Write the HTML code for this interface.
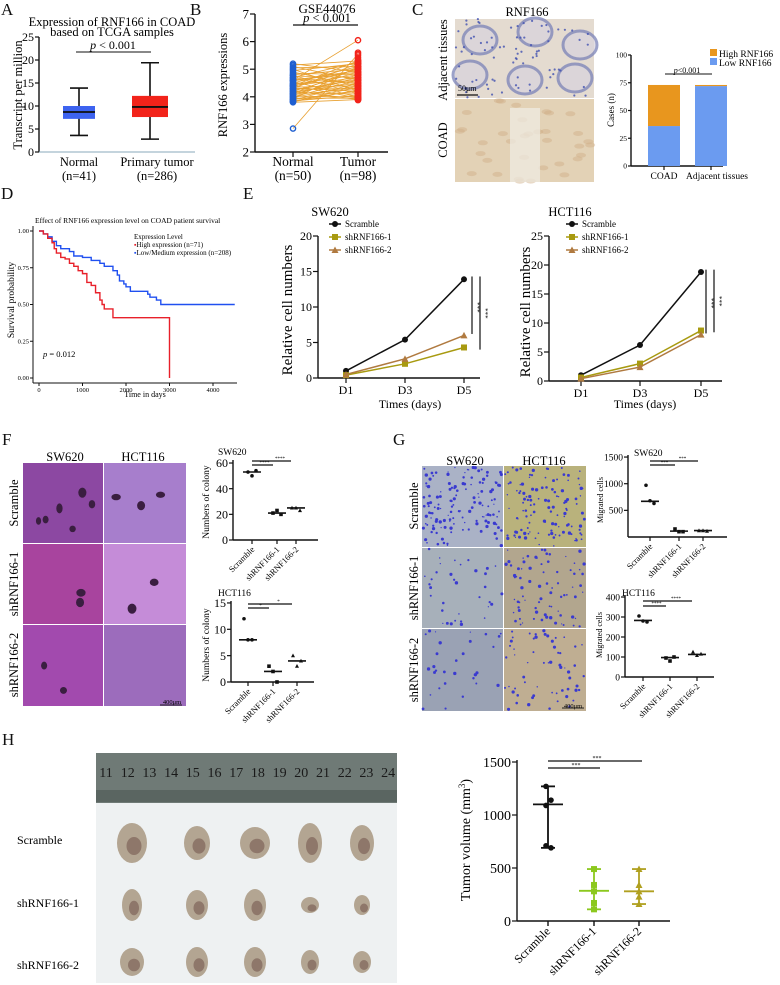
<!DOCTYPE html>
<html><head><meta charset="utf-8">
<style>
html,body{margin:0;padding:0;background:#fff;}
svg{display:block;font-family:"Liberation Serif",serif;}
</style></head>
<body>
<svg id="fig" width="780" height="985" viewBox="0 0 780 985" xmlns="http://www.w3.org/2000/svg">
<rect x="0" y="0" width="780" height="985" fill="#fff"/>
<g font-size="17" fill="#111">
<text x="1" y="15">A</text>
<text x="190" y="15">B</text>
<text x="412" y="15">C</text>
<text x="1" y="199">D</text>
<text x="243" y="199">E</text>
<text x="2" y="445">F</text>
<text x="393" y="445">G</text>
<text x="2" y="745">H</text>
</g>

<g id="pA">
<text x="112" y="26" font-size="12.5" text-anchor="middle">Expression of RNF166 in COAD</text>
<text x="112" y="36" font-size="12.5" text-anchor="middle">based on TCGA samples</text>
<text x="113" y="49" font-size="12" text-anchor="middle"><tspan font-style="italic">p</tspan> &lt; 0.001</text>
<line x1="76" y1="52" x2="151" y2="52" stroke="#111" stroke-width="1"/>
<text x="22" y="95" font-size="12.5" text-anchor="middle" transform="rotate(-90 22 95)">Transcript per million</text>
<text x="79" y="166" font-size="12.5" text-anchor="middle">Normal</text>
<text x="79" y="180" font-size="12.5" text-anchor="middle">(n=41)</text>
<text x="157" y="166" font-size="12.5" text-anchor="middle">Primary tumor</text>
<text x="157" y="180" font-size="12.5" text-anchor="middle">(n=286)</text>
</g>

<g id="pB">
<text x="327" y="13" font-size="13" text-anchor="middle">GSE44076</text>
<text x="327" y="22" font-size="12.5" text-anchor="middle"><tspan font-style="italic">p</tspan> &lt; 0.001</text>
<line x1="293" y1="25" x2="358" y2="25" stroke="#111" stroke-width="1.3"/>
<text x="227" y="85" font-size="12.5" text-anchor="middle" transform="rotate(-90 227 85)">RNF166 expressions</text>
<text x="293" y="166" font-size="13.5" text-anchor="middle">Normal</text>
<text x="293" y="180" font-size="13.5" text-anchor="middle">(n=50)</text>
<text x="358" y="166" font-size="13.5" text-anchor="middle">Tumor</text>
<text x="358" y="180" font-size="13.5" text-anchor="middle">(n=98)</text>
</g>

<g id="pC">
<text x="527" y="16" font-size="12.5" text-anchor="middle">RNF166</text>
<text x="447" y="60" font-size="12.5" text-anchor="middle" transform="rotate(-90 447 60)">Adjacent tissues</text>
<text x="447" y="140" font-size="12.5" text-anchor="middle" transform="rotate(-90 447 140)">COAD</text>
<g id="ihc">
<rect x="455" y="19" width="139" height="79" fill="#e4dbd0"/>
<rect x="455" y="99" width="139" height="83" fill="#e3d2b6"/>
</g>
<text x="458" y="91" font-size="8">50μm</text>
<text x="614" y="110" font-size="9" text-anchor="middle" transform="rotate(-90 614 110)">Cases (n)</text>
<text x="687" y="73" font-size="8" text-anchor="middle"><tspan font-style="italic">p</tspan>&lt;0.001</text>
<line x1="665" y1="74" x2="712" y2="74" stroke="#111" stroke-width="1"/>
<rect x="710" y="49" width="7" height="7" fill="#e8961e"/>
<text x="719" y="57" font-size="9.5">High RNF166</text>
<rect x="710" y="58" width="7" height="7" fill="#6b9bf0"/>
<text x="719" y="66" font-size="9.5">Low RNF166</text>
<text x="664" y="179" font-size="9.5" text-anchor="middle">COAD</text>
<text x="717" y="179" font-size="9.5" text-anchor="middle">Adjacent tissues</text>
</g>

<g id="pD">
<text x="35" y="223" font-size="7.5">Effect of RNF166 expression level on COAD patient survival</text>
<text x="134" y="239" font-size="7">Expression Level</text>
<text x="134" y="247" font-size="7"><tspan fill="#e8202a">▪</tspan>High expression (n=71)</text>
<text x="134" y="255" font-size="7"><tspan fill="#2050f0">▪</tspan>Low/Medium expression (n=208)</text>
<text x="14" y="300" font-size="9.5" text-anchor="middle" transform="rotate(-90 14 300)">Survival probability</text>
<text x="145" y="397" font-size="8" text-anchor="middle">Time in days</text>
<text x="43" y="357" font-size="8.5"><tspan font-style="italic">p</tspan> = 0.012</text>
</g>

<g id="pE">
<text x="330" y="216" font-size="12.5" text-anchor="middle">SW620</text>
<text x="570" y="216" font-size="12.5" text-anchor="middle">HCT116</text>
<text x="292" y="310" font-size="15" text-anchor="middle" transform="rotate(-90 292 310)">Relative cell numbers</text>
<text x="530" y="312" font-size="15" text-anchor="middle" transform="rotate(-90 530 312)">Relative cell numbers</text>
<text x="410" y="408" font-size="12" text-anchor="middle">Times (days)</text>
<text x="645" y="408" font-size="12" text-anchor="middle">Times (days)</text>
</g>

<g id="pF">
<text x="65" y="461" font-size="12.5" text-anchor="middle">SW620</text>
<text x="143" y="461" font-size="12.5" text-anchor="middle">HCT116</text>
<text x="18" y="503" font-size="12.5" text-anchor="middle" transform="rotate(-90 18 503)">Scramble</text>
<text x="18" y="584" font-size="12.5" text-anchor="middle" transform="rotate(-90 18 584)">shRNF166-1</text>
<text x="18" y="665" font-size="12.5" text-anchor="middle" transform="rotate(-90 18 665)">shRNF166-2</text>
<g id="fimg"></g>
<text x="172" y="704" font-size="6.5" text-anchor="middle">400μm</text>
<text x="218" y="455" font-size="9.5">SW620</text>
<text x="218" y="596" font-size="9.5">HCT116</text>
<text x="209" y="502" font-size="9.5" text-anchor="middle" transform="rotate(-90 209 502)">Numbers of colony</text>
<text x="209" y="645" font-size="9.5" text-anchor="middle" transform="rotate(-90 209 645)">Numbers of colony</text>
</g>

<g id="pG">
<text x="465" y="465" font-size="12.5" text-anchor="middle">SW620</text>
<text x="544" y="465" font-size="12.5" text-anchor="middle">HCT116</text>
<text x="418" y="506" font-size="12.5" text-anchor="middle" transform="rotate(-90 418 506)">Scramble</text>
<text x="418" y="588" font-size="12.5" text-anchor="middle" transform="rotate(-90 418 588)">shRNF166-1</text>
<text x="418" y="670" font-size="12.5" text-anchor="middle" transform="rotate(-90 418 670)">shRNF166-2</text>
<g id="gimg"></g>
<text x="573" y="708" font-size="6.5" text-anchor="middle">400μm</text>
<text x="634" y="456" font-size="9.5">SW620</text>
<text x="622" y="596" font-size="9.5">HCT116</text>
<text x="603" y="500" font-size="8" text-anchor="middle" transform="rotate(-90 603 500)">Migrated cells</text>
<text x="602" y="635" font-size="8" text-anchor="middle" transform="rotate(-90 602 635)">Migrated cells</text>
</g>

<g id="pH">
<rect x="96" y="753" width="301" height="50" fill="#6f7a76"/>
<rect x="96" y="790" width="301" height="12" fill="#5a6561"/>
<g id="rulerNums" font-size="14" fill="#1a1a1a"></g>
<rect x="96" y="803" width="301" height="180" fill="#eef1f2"/>
<text x="17" y="844" font-size="12">Scramble</text>
<text x="17" y="907" font-size="12">shRNF166-1</text>
<text x="17" y="969" font-size="12">shRNF166-2</text>
<g id="tumors"></g>
<text x="470" y="840" font-size="14" text-anchor="middle" transform="rotate(-90 470 840)">Tumor volume (mm<tspan font-size="9" dy="-5">3</tspan><tspan dy="5">)</tspan></text>
</g>

<g id="charts"></g>

<script>
// ---------- DATA ----------
const aCategories = ["Normal", "Primary tumor"];
const aTicks = [0, 5, 10, 15, 20, 25];
const aMin = [3.6, 2.8];
const aQ1 = [7.2, 7.6];
const aMedian = [8.7, 9.8];
const aQ3 = [10.0, 12.2];
const aMax = [13.9, 19.4];

const bTicks = [2, 3, 4, 5, 6, 7];
const bNormal = [5.2,5.15,5.1,5.05,5.0,4.95,4.9,4.85,4.8,4.78,4.75,4.7,4.68,4.65,4.6,4.58,4.55,4.5,4.48,4.45,4.42,4.4,4.38,4.35,4.32,4.3,4.28,4.25,4.22,4.2,4.18,4.15,4.12,4.1,4.08,4.05,4.02,4.0,3.98,3.95,3.92,3.9,3.88,3.85,3.83,3.82,3.8,4.6,4.4,2.85];
const bTumor = [4.9,5.3,4.6,5.1,4.2,5.2,4.4,4.8,5.0,4.1,4.7,5.25,4.5,4.3,6.05,4.9,4.0,5.1,4.6,4.8,3.95,4.7,5.0,4.4,4.2,5.2,4.3,4.6,3.9,4.9,4.5,4.1,5.05,4.7,4.3,4.8,4.0,4.6,4.4,3.95,5.1,4.2,4.5,4.05,4.35,4.25,3.9,4.95,5.3,5.55];
const bTumorExtra = [5.6,5.5,5.35,5.2,5.15,5.0,4.85,4.75,4.65,4.55,4.45,4.35,4.25,4.15,4.05,3.98,3.92,3.88,5.28,4.88,4.62,4.32,4.12,5.42,5.08,4.78,4.52,4.22,4.02,3.95,5.22,4.92,4.68,4.42,4.18,4.08,5.32,5.02,4.72,4.48,4.28,3.9,5.12,4.82,4.58,4.38,4.15,3.93];

const cCategories = ["COAD", "Adjacent tissues"];
const cTicks = [0, 25, 50, 75, 100];
const cLow = [36, 72];
const cHigh = [37, 1];

const dTicksX = [0, 1000, 2000, 3000, 4000];
const dTicksY = [0, 0.25, 0.5, 0.75, 1.0];
const dBlueTime = [0,100,200,300,400,500,700,800,1000,1200,1400,1500,1700,1800,1850,1950,2000,2100,2500,2550,2700,2800,4500];
const dBlueSurv = [1,0.98,0.96,0.93,0.9,0.88,0.86,0.83,0.82,0.8,0.78,0.76,0.73,0.7,0.66,0.64,0.62,0.59,0.57,0.55,0.53,0.5,0.5];
const dRedTime = [0,100,200,300,350,400,500,600,700,800,900,1000,1100,1200,1300,1400,1450,1500,1700,3000,3000];
const dRedSurv = [1,0.98,0.95,0.92,0.88,0.85,0.82,0.81,0.78,0.76,0.73,0.71,0.65,0.63,0.58,0.53,0.5,0.47,0.41,0.41,0];

const eDays = ["D1", "D3", "D5"];
const eSwTicks = [0, 5, 10, 15, 20];
const eSwScramble = [1.0, 5.4, 13.9];
const eSwSh1 = [0.4, 2.0, 4.3];
const eSwSh2 = [0.5, 2.7, 6.0];
const eHcTicks = [0, 5, 10, 15, 20, 25];
const eHcScramble = [1.0, 6.2, 18.8];
const eHcSh1 = [0.6, 3.0, 8.7];
const eHcSh2 = [0.4, 2.4, 8.0];
const eSeriesNames = ["Scramble", "shRNF166-1", "shRNF166-2"];

const groups = ["Scramble", "shRNF166-1", "shRNF166-2"];
const fSwTicks = [0, 20, 40, 60];
const fSwPoints = [[53, 50, 54], [21, 23, 20], [25, 25, 23]];
const fSwMedian = [53, 21, 25];
const fHcTicks = [0, 5, 10, 15];
const fHcPoints = [[12, 8, 8], [3, 2, 0], [5, 3, 4]];
const fHcMedian = [8, 2, 4];

const gSwTicks = [500, 1000, 1500];
const gSwPoints = [[970, 680, 630], [150, 100, 100], [120, 120, 110]];
const gSwMedian = [670, 110, 120];
const gHcTicks = [0, 100, 200, 300, 400];
const gHcPoints = [[305, 280, 275], [95, 80, 100], [125, 108, 115]];
const gHcMedian = [283, 97, 113];

const hTicks = [0, 500, 1000, 1500];
const hPoints = [[1270, 1140, 1090, 690, 710], [490, 340, 280, 170, 110], [490, 340, 280, 230, 160]];
const hMedian = [1100, 285, 280];
const hMin = [690, 110, 160];
const hMax = [1270, 490, 490];

// ---------- HELPERS ----------
const NS = "http://www.w3.org/2000/svg";
const root = document.getElementById("charts");
function mk(tag, attrs, parent) {
  const el = document.createElementNS(NS, tag);
  for (const k in attrs) el.setAttribute(k, attrs[k]);
  (parent || root).appendChild(el);
  return el;
}
function nm(el, name, inter) {
  
  
  return el;
}
function txt(x, y, s, size, anchor, parent, extra) {
  const t = mk("text", Object.assign({x: x, y: y, "font-size": size, "text-anchor": anchor || "middle"}, extra || {}), parent);
  t.textContent = s;
  return t;
}
function lin(x1, y1, x2, y2, w, col, parent) {
  return mk("line", {x1: x1, y1: y1, x2: x2, y2: y2, stroke: col || "#111", "stroke-width": w || 1}, parent);
}
function yAxis(x, y0, y1, ticks, scale, size, parent, name, tickLen) {
  const g = nm(mk("g", {}, parent), name, false);
  nm(lin(x, y0, x, y1, 1.4, "#111", g), name + "-line", false);
  ticks.forEach(v => {
    const y = scale(v);
    nm(lin(x - (tickLen || 4), y, x, y, 1.2, "#111", g), name + "-tick", false);
    nm(txt(x - (tickLen || 4) - 1, y + size * 0.35, String(v), size, "end", g), name + "-tick-label", false);
  });
  return g;
}

// ---------- PANEL A ----------
(function () {
  const g = nm(mk("g"), "panel-a-plot", false);
  const y = v => 152 - v * 4.6;
  const xs = [79, 150];
  const cols = ["#3d63f0", "#f2231a"];
  yAxis(39, 37, 152, aTicks, y, 12, g, "panel-a-y-axis", 4);
  nm(lin(39, 152, 195, 152, 1, "#8ab", g), "panel-a-x-axis", false);
  aCategories.forEach((c, i) => {
    const x = xs[i];
    nm(lin(x, y(aMax[i]), x, y(aMin[i]), 1.6, "#111", g), "whisker-" + i, false);
    nm(lin(x - 9, y(aMax[i]), x + 9, y(aMax[i]), 1.6, "#111", g), "whisker-cap-top-" + i, false);
    nm(lin(x - 9, y(aMin[i]), x + 9, y(aMin[i]), 1.6, "#111", g), "whisker-cap-bottom-" + i, false);
    const w = i === 0 ? 32 : 36;
    nm(mk("rect", {x: x - w / 2, y: y(aQ3[i]), width: w, height: y(aQ1[i]) - y(aQ3[i]), fill: cols[i]}, g), "box-" + i, false);
    nm(lin(x - w / 2, y(aMedian[i]), x + w / 2, y(aMedian[i]), 1.8, "#111", g), "median-" + i, false);
  });
})();

// ---------- PANEL B ----------
(function () {
  const g = nm(mk("g"), "panel-b-plot", false);
  const y = v => 152 - (v - 2) * 27.6;
  const xN = 293, xT = 358;
  yAxis(255, 14, 152, bTicks, y, 13, g, "panel-b-y-axis", 5);
  nm(lin(255, 152, 388, 152, 1.4, "#111", g), "panel-b-x-axis", false);
  nm(lin(xN, 152, xN, 157, 1.2, "#111", g), "panel-b-x-tick", false);
  nm(lin(xT, 152, xT, 157, 1.2, "#111", g), "panel-b-x-tick", false);
  bNormal.forEach((v, i) => {
    nm(lin(xN, y(v), xT, y(bTumor[i]), 0.8, "#e8a030", g), "pair-line", false);
  });
  bNormal.forEach(v => {
    nm(mk("circle", {cx: xN, cy: y(v), r: 2.6, fill: "none", stroke: "#1f5fd0", "stroke-width": 1.4}, g), "normal-point", false);
  });
  bTumor.concat(bTumorExtra).forEach(v => {
    nm(mk("circle", {cx: xT, cy: y(v), r: 2.6, fill: "none", stroke: "#f2231a", "stroke-width": 1.4}, g), "tumor-point", false);
  });
})();

// ---------- PANEL C ----------
(function () {
  const ihc = document.getElementById("ihc");
  let s = 7;
  const rnd = () => { s = (s * 9301 + 49297) % 233280; return s / 233280; };
  [[480, 40], [535, 32], [580, 45], [470, 75], [525, 80], [575, 78]].forEach(p => {
    nm(mk("ellipse", {cx: p[0], cy: p[1], rx: 17, ry: 14, fill: "#d9d3dc", stroke: "#7a82b8", "stroke-width": 3, opacity: 0.75}, ihc), "crypt", false);
  });
  for (let i = 0; i < 80; i++) {
    nm(mk("circle", {cx: 455 + rnd() * 139, cy: 19 + rnd() * 79, r: 1.1, fill: "#4050b0", opacity: 0.8}, ihc), "nucleus", false);
  }
  for (let i = 0; i < 35; i++) {
    nm(mk("ellipse", {cx: 455 + rnd() * 139, cy: 99 + rnd() * 83, rx: 5, ry: 2.5, fill: "#cfae84", opacity: 0.45}, ihc), "stain-patch", false);
  }
  nm(mk("rect", {x: 510, y: 108, width: 30, height: 74, fill: "#f0ece6", opacity: 0.7}, ihc), "lumen", false);
  nm(lin(457, 95, 478, 95, 1.2, "#111", ihc), "ihc-scale-bar", false);

  const g = nm(mk("g"), "panel-c-bar-chart", false);
  const y = v => 166 - v * 1.11;
  const xs = [664, 711];
  yAxis(631, 55, 166, cTicks, y, 7.5, g, "panel-c-y-axis", 3);
  nm(lin(631, 166, 723, 166, 1.6, "#111", g), "panel-c-x-axis", false);
  cCategories.forEach((c, i) => {
    nm(mk("rect", {x: xs[i] - 16, y: y(cLow[i]), width: 32, height: y(0) - y(cLow[i]), fill: "#6b9bf0"}, g), "bar-low-" + i, false);
    nm(mk("rect", {x: xs[i] - 16, y: y(cLow[i] + cHigh[i]), width: 32, height: y(cLow[i]) - y(cLow[i] + cHigh[i]), fill: "#e8961e"}, g), "bar-high-" + i, false);
    nm(lin(xs[i], 166, xs[i], 170, 1.2, "#111", g), "panel-c-x-tick", false);
  });
})();

// ---------- PANEL D ----------
(function () {
  const g = nm(mk("g"), "panel-d-plot", false);
  const x = t => 39 + t * 0.0435;
  const y = s => 378 - s * 147;
  nm(lin(33, 226, 33, 383, 1, "#111", g), "panel-d-y-axis", false);
  nm(lin(33, 383, 237, 383, 1, "#111", g), "panel-d-x-axis", false);
  dTicksY.forEach(v => {
    nm(lin(30, y(v), 33, y(v), 1, "#111", g), "panel-d-y-tick", false);
    nm(txt(29, y(v) + 2, v.toFixed(2), 6.5, "end", g), "panel-d-y-tick-label", false);
  });
  dTicksX.forEach(v => {
    nm(lin(x(v), 383, x(v), 386, 1, "#111", g), "panel-d-x-tick", false);
    nm(txt(x(v), 392, String(v), 6.5, "middle", g), "panel-d-x-tick-label", false);
  });
  function step(T, S) {
    let d = "M" + x(T[0]) + " " + y(S[0]);
    for (let i = 1; i < T.length; i++) d += " H" + x(T[i]) + " V" + y(S[i]);
    return d;
  }
  nm(mk("path", {d: step(dBlueTime, dBlueSurv), fill: "none", stroke: "#2050f0", "stroke-width": 1.4}, g), "survival-curve-low", false);
  nm(mk("path", {d: step(dRedTime, dRedSurv), fill: "none", stroke: "#e8202a", "stroke-width": 1.4}, g), "survival-curve-high", false);
})();

// ---------- PANEL E ----------
function growth(opts) {
  const g = nm(mk("g"), opts.name, false);
  const y = opts.y;
  const xs = opts.xs;
  yAxis(opts.ax, opts.top, opts.base, opts.ticks, y, 12, g, opts.name + "-y-axis", 5);
  nm(lin(opts.ax, opts.base, opts.xend, opts.base, 1.4, "#111", g), opts.name + "-x-axis", false);
  eDays.forEach((d, i) => {
    nm(lin(xs[i], opts.base, xs[i], opts.base + 5, 1.2, "#111", g), opts.name + "-x-tick", false);
    nm(txt(xs[i], opts.base + 16, d, 12, "middle", g), opts.name + "-x-tick-label", false);
  });
  const cols = ["#111", "#a89a10", "#b07a40"];
  opts.series.forEach((ser, si) => {
    nm(mk("polyline", {points: ser.map((v, i) => xs[i] + "," + y(v)).join(" "), fill: "none", stroke: cols[si], "stroke-width": 1.5}, g), opts.name + "-line-" + si, false);
    ser.forEach((v, i) => {
      let m;
      if (si === 0) m = mk("circle", {cx: xs[i], cy: y(v), r: 3, fill: cols[0]}, g);
      else if (si === 1) m = mk("rect", {x: xs[i] - 3, y: y(v) - 3, width: 6, height: 6, fill: cols[1]}, g);
      else m = mk("polygon", {points: (xs[i]) + "," + (y(v) - 3.5) + " " + (xs[i] - 3.5) + "," + (y(v) + 3) + " " + (xs[i] + 3.5) + "," + (y(v) + 3), fill: cols[2]}, g);
      nm(m, opts.name + "-point-" + si, false);
    });
    const ly = opts.legendY + si * 13;
    nm(lin(opts.legX - 6, ly, opts.legX + 6, ly, 1.5, cols[si], g), opts.name + "-legend-line-" + si, false);
    let lm;
    if (si === 0) lm = mk("circle", {cx: opts.legX, cy: ly, r: 3, fill: cols[0]}, g);
    else if (si === 1) lm = mk("rect", {x: opts.legX - 3, y: ly - 3, width: 6, height: 6, fill: cols[1]}, g);
    else lm = mk("polygon", {points: opts.legX + "," + (ly - 3.5) + " " + (opts.legX - 3.5) + "," + (ly + 3) + " " + (opts.legX + 3.5) + "," + (ly + 3), fill: cols[2]}, g);
    nm(lm, opts.name + "-legend-marker-" + si, false);
    nm(txt(opts.legX + 10, ly + 3, eSeriesNames[si], 9, "start", g), opts.name + "-legend-label-" + si, false);
  });
  const top = Math.max.apply(null, opts.series[0]);
  nm(lin(opts.sx1, y(top + 0.4), opts.sx1, y(opts.series[2][2] + 0.2), 1.2, "#111", g), opts.name + "-sig-bar", false);
  nm(lin(opts.sx2, y(top + 0.4), opts.sx2, y(opts.series[1][2] - 0.3), 1.2, "#111", g), opts.name + "-sig-bar", false);
  nm(txt(opts.sx1 + 3, y((top + opts.series[2][2]) / 2), "***", 7, "middle", g, {transform: "rotate(90 " + (opts.sx1 + 3) + " " + y((top + opts.series[2][2]) / 2) + ")"}), opts.name + "-sig-label", false);
  nm(txt(opts.sx2 + 3, y((top + opts.series[1][2]) / 2), "***", 7, "middle", g, {transform: "rotate(90 " + (opts.sx2 + 3) + " " + y((top + opts.series[1][2]) / 2) + ")"}), opts.name + "-sig-label", false);
}
growth({name: "panel-e-sw620", y: v => 378 - v * 7.1, xs: [346, 405, 464], ax: 318, top: 236, base: 378, xend: 480, ticks: eSwTicks,
  series: [eSwScramble, eSwSh1, eSwSh2], legX: 335, legendY: 224, sx1: 472, sx2: 480});
growth({name: "panel-e-hct116", y: v => 381 - v * 5.8, xs: [581, 640, 701], ax: 549, top: 236, base: 381, xend: 722, ticks: eHcTicks,
  series: [eHcScramble, eHcSh1, eHcSh2], legX: 572, legendY: 224, sx1: 706, sx2: 714});

// ---------- DOT PLOTS (F, G) ----------
function dotplot(opts) {
  const g = nm(mk("g"), opts.name, false);
  const y = opts.y;
  yAxis(opts.ax, opts.top, opts.base, opts.ticks, y, opts.fs, g, opts.name + "-y-axis", 4);
  nm(lin(opts.ax, opts.base, opts.xend, opts.base, 1.4, "#111", g), opts.name + "-x-axis", false);
  groups.forEach((grp, i) => {
    const x = opts.xs[i];
    nm(lin(x, opts.base, x, opts.base + 4, 1.2, "#111", g), opts.name + "-x-tick", false);
    nm(txt(x + 3, opts.base + 10, grp, opts.lfs, "end", g, {transform: "rotate(-45 " + (x + 3) + " " + (opts.base + 10) + ")"}), opts.name + "-x-label", false);
    nm(lin(x - 9, y(opts.med[i]), x + 9, y(opts.med[i]), 1.6, "#111", g), opts.name + "-median-" + i, false);
    opts.pts[i].forEach((v, j) => {
      const px = x + (j - 1) * 4;
      let m;
      if (i === 0) m = mk("circle", {cx: px, cy: y(v), r: 1.8, fill: "#111"}, g);
      else if (i === 1) m = mk("rect", {x: px - 1.8, y: y(v) - 1.8, width: 3.6, height: 3.6, fill: "#111"}, g);
      else m = mk("polygon", {points: px + "," + (y(v) - 2.2) + " " + (px - 2) + "," + (y(v) + 1.6) + " " + (px + 2) + "," + (y(v) + 1.6), fill: "#111"}, g);
      nm(m, opts.name + "-point-" + i, false);
    });
  });
  nm(lin(opts.xs[0], opts.s1, opts.xs[2] - 5, opts.s1, 1.3, "#111", g), opts.name + "-sig-line-2", false);
  nm(lin(opts.xs[0], opts.s2, opts.xs[1] - 4, opts.s2, 1.3, "#111", g), opts.name + "-sig-line-1", false);
  nm(txt((opts.xs[0] + opts.xs[2]) / 2 + 6, opts.s1 - 1, opts.star, 5, "middle", g), opts.name + "-sig-label-2", false);
  nm(txt((opts.xs[0] + opts.xs[1]) / 2, opts.s2 - 1, opts.star, 5, "middle", g), opts.name + "-sig-label-1", false);
}
dotplot({name: "panel-f-sw620", y: v => 540 - v * 1.283, ax: 233, top: 460, base: 540, xend: 318, xs: [252, 277, 296], ticks: fSwTicks,
  pts: fSwPoints, med: fSwMedian, s1: 461, s2: 465, fs: 12, lfs: 8.5, star: "****"});
dotplot({name: "panel-f-hct116", y: v => 682 - v * 5.27, ax: 231, top: 601, base: 682, xend: 314, xs: [248, 273, 297], ticks: fHcTicks,
  pts: fHcPoints, med: fHcMedian, s1: 604, s2: 608, fs: 12, lfs: 8.5, star: "*"});
dotplot({name: "panel-g-sw620", y: v => 537 - v * 0.0533, ax: 628, top: 455, base: 537, xend: 727, xs: [650, 679, 703], ticks: gSwTicks,
  pts: gSwPoints, med: gSwMedian, s1: 461, s2: 465, fs: 9.5, lfs: 8.5, star: "***"});
dotplot({name: "panel-g-hct116", y: v => 677 - v * 0.2, ax: 625, top: 595, base: 677, xend: 714, xs: [643, 670, 697], ticks: gHcTicks,
  pts: gHcPoints, med: gHcMedian, s1: 601, s2: 606, fs: 9.5, lfs: 8.5, star: "****"});

// ---------- IMAGES F & G ----------
(function () {
  const fimg = document.getElementById("fimg");
  const fcols = [["#8c48a2", "#a77ecc"], ["#a8449e", "#c58cd8"], ["#a24aae", "#9c6cbc"]];
  const rows = [[463, 80], [544, 80], [625, 81]];
  let s = 11;
  const rnd = () => { s = (s * 9301 + 49297) % 233280; return s / 233280; };
  rows.forEach((r, ri) => {
    [[23, 80], [104, 82]].forEach((c, ci) => {
      nm(mk("rect", {x: c[0], y: r[0], width: c[1], height: r[1], fill: fcols[ri][ci]}, fimg), "colony-image", false);
      const n = ri === 0 ? (ci === 0 ? 6 : 3) : (ri === 1 ? 2 : (ci === 0 ? 2 : 0));
      for (let k = 0; k < n; k++) {
        nm(mk("ellipse", {cx: c[0] + 8 + rnd() * (c[1] - 16), cy: r[0] + 8 + rnd() * (r[1] - 16), rx: 2.5 + rnd() * 2.5, ry: 3 + rnd() * 2.5, fill: "#3a1e40"}, fimg), "colony", false);
      }
    });
  });
  nm(lin(160, 705, 182, 705, 1, "#222", fimg), "panel-f-scale-bar", false);

  const gimg = document.getElementById("gimg");
  const gcols = [["#aab2c6", "#b9b27c"], ["#a7b0ba", "#b2a68e"], ["#9aa2b4", "#bfae92"]];
  const grows = [[466, 81], [548, 80], [629, 82]];
  const dens = [[140, 120], [35, 80], [30, 60]];
  grows.forEach((r, ri) => {
    [[422, 81], [504, 82]].forEach((c, ci) => {
      nm(mk("rect", {x: c[0], y: r[0], width: c[1], height: r[1], fill: gcols[ri][ci]}, gimg), "transwell-image", false);
      for (let k = 0; k < dens[ri][ci]; k++) {
        nm(mk("circle", {cx: c[0] + 1 + rnd() * (c[1] - 2), cy: r[0] + 1 + rnd() * (r[1] - 2), r: 0.6 + rnd() * 1.1, fill: "#3a3ad0"}, gimg), "migrated-cell", false);
      }
    });
  });
  nm(lin(562, 708, 584, 708, 1, "#222", gimg), "panel-g-scale-bar", false);
})();

// ---------- PANEL H ----------
(function () {
  const rn = document.getElementById("rulerNums");
  for (let i = 11; i <= 24; i++) {
    const t = txt(106 + (i - 11) * 21.7, 777, String(i), 14, "middle", rn);
    nm(t, "ruler-number", false);
  }
  const tg = document.getElementById("tumors");
  const xs = [132, 197, 255, 310, 362];
  const rowsY = [843, 905, 962];
  const sizes = [[[15, 20], [13, 17], [15, 16], [12, 20], [12, 18]], [[10, 16], [11, 15], [11, 16], [9, 8], [8, 10]], [[12, 14], [11, 15], [11, 15], [9, 12], [9, 11]]];
  rowsY.forEach((yy, ri) => {
    xs.forEach((x, ci) => {
      const sz = sizes[ri][ci];
      nm(mk("ellipse", {cx: x, cy: yy, rx: sz[0], ry: sz[1], fill: "#b3a592"}, tg), "tumor", false);
      nm(mk("ellipse", {cx: x + 2, cy: yy + 3, rx: sz[0] * 0.5, ry: sz[1] * 0.45, fill: "#6a4a42", opacity: 0.5}, tg), "tumor-core", false);
    });
  });

  const g = nm(mk("g"), "panel-h-plot", false);
  const y = v => 921 - v * 0.106;
  const xs2 = [548, 594, 639];
  yAxis(517, 760, 921, hTicks, y, 14, g, "panel-h-y-axis", 5);
  nm(lin(517, 921, 670, 921, 1.6, "#111", g), "panel-h-x-axis", false);
  const cols = ["#111", "#8cc81e", "#b0a020"];
  groups.forEach((grp, i) => {
    const x = xs2[i];
    nm(lin(x, 921, x, 926, 1.4, "#111", g), "panel-h-x-tick", false);
    nm(txt(x + 3, 932, grp, 12, "end", g, {transform: "rotate(-45 " + (x + 3) + " 932)"}), "panel-h-x-label", false);
    nm(lin(x, y(hMax[i]), x, y(hMin[i]), 1.8, cols[i], g), "range-line-" + i, false);
    nm(lin(x - 7, y(hMax[i]), x + 7, y(hMax[i]), 1.8, cols[i], g), "range-cap-top-" + i, false);
    nm(lin(x - 7, y(hMin[i]), x + 7, y(hMin[i]), 1.8, cols[i], g), "range-cap-bottom-" + i, false);
    nm(lin(x - 15, y(hMedian[i]), x + 15, y(hMedian[i]), 1.8, cols[i], g), "median-" + i, false);
    hPoints[i].forEach((v, j) => {
      const px = x + ((j % 2) ? 3 : -2);
      let m;
      if (i === 0) m = mk("circle", {cx: px, cy: y(v), r: 2.8, fill: cols[0]}, g);
      else if (i === 1) m = mk("rect", {x: x - 3, y: y(v) - 3, width: 6, height: 6, fill: cols[1]}, g);
      else m = mk("polygon", {points: x + "," + (y(v) - 3.5) + " " + (x - 3.5) + "," + (y(v) + 3) + " " + (x + 3.5) + "," + (y(v) + 3), fill: cols[2]}, g);
      nm(m, "tumor-volume-point-" + i, false);
    });
  });
  nm(lin(548, 761, 642, 761, 1.3, "#111", g), "panel-h-sig-line-2", false);
  nm(lin(548, 768, 600, 768, 1.3, "#111", g), "panel-h-sig-line-1", false);
  nm(txt(597, 760, "***", 6, "middle", g), "panel-h-sig-label-2", false);
  nm(txt(576, 767, "***", 6, "middle", g), "panel-h-sig-label-1", false);
})();
</script>
</svg>
</body></html>
